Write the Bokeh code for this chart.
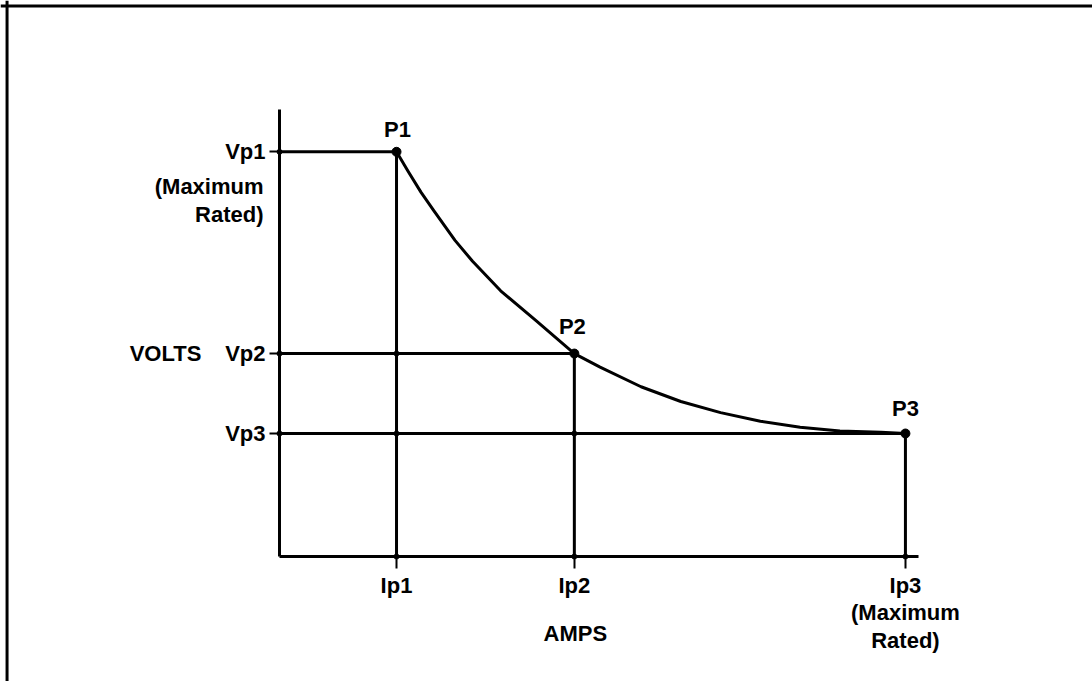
from bokeh.plotting import figure
from bokeh.models import Range1d, FixedTicker, Label, LinearAxis, Span
from bokeh.embed import file_html
from bokeh.resources import INLINE

# ---- data (arbitrary units) ----
amps_ticks = [1.0, 2.52, 5.35]          # Ip1, Ip2, Ip3
amps_labels = ["Ip1", "Ip2", "Ip3\n(Maximum\nRated)"]
volts_ticks = [3.29, 1.65, 1.0]         # Vp1, Vp2, Vp3
volts_labels = ["Vp1", "Vp2", "Vp3"]
point_names = ["P1", "P2", "P3"]

curve_x = [1.00, 1.10, 1.21, 1.32, 1.50, 1.65, 1.89, 2.19, 2.52, 2.74, 3.09, 3.43,
           3.77, 4.11, 4.45, 4.79, 5.14, 5.35]
curve_y = [3.29, 3.13, 2.96, 2.81, 2.57, 2.40, 2.16, 1.92, 1.65, 1.54, 1.38, 1.26,
           1.17, 1.10, 1.05, 1.02, 1.01, 1.00]

x_axis_end = 5.46
y_axis_end = 3.63

# visible window in data units (frame fills the canvas)
X0, X1 = -2.385, 6.949
Y0, Y1 = -1.016, 4.520
# page frame edges (top / left)
FRAME_TOP = 4.476
FRAME_LEFT = -2.329

FONT = "Liberation Sans"
FS = "22px"

p = figure(width=1092, height=681, output_backend="svg", toolbar_location=None,
           x_range=Range1d(X0, X1), y_range=Range1d(Y0, Y1),
           x_axis_location=None, y_axis_location=None,
           min_border=0)
p.outline_line_color = None
p.grid.visible = False
p.background_fill_color = "white"
p.border_fill_color = "white"

def style_axis(ax):
    ax.axis_line_width = 3
    ax.axis_line_color = "black"
    ax.major_tick_line_width = 2
    ax.major_tick_line_color = "black"
    ax.minor_tick_line_color = None
    ax.major_tick_in = 0
    ax.major_label_text_font = FONT
    ax.major_label_text_font_style = "bold"
    ax.major_label_text_font_size = FS
    ax.major_label_text_color = "black"

xa = LinearAxis(fixed_location=0, bounds=(0, x_axis_end))
style_axis(xa)
xa.ticker = FixedTicker(ticks=amps_ticks)
xa.major_label_overrides = {t: l for t, l in zip(amps_ticks, amps_labels)}
xa.major_tick_out = 12
xa.major_label_standoff = 4
xa.major_label_text_line_height = 1.1
p.add_layout(xa, "below")

ya = LinearAxis(fixed_location=0, bounds=(0, y_axis_end))
style_axis(ya)
ya.ticker = FixedTicker(ticks=volts_ticks)
ya.major_label_overrides = {t: l for t, l in zip(volts_ticks, volts_labels)}
ya.major_tick_out = 10
ya.major_label_standoff = 4
p.add_layout(ya, "left")

# page frame (top and left edges)
p.add_layout(Span(location=FRAME_TOP, dimension="width", line_color="black", line_width=3))
p.add_layout(Span(location=FRAME_LEFT, dimension="height", line_color="black", line_width=3))

# horizontal lines from V axis to each point, vertical lines from I axis
pts_x = amps_ticks
pts_y = volts_ticks
p.segment(x0=[0] * 3, y0=pts_y, x1=pts_x, y1=pts_y, line_color="black", line_width=3)
p.segment(x0=pts_x, y0=[0] * 3, x1=pts_x, y1=pts_y, line_color="black", line_width=3)

# curve
p.line(curve_x, curve_y, line_color="black", line_width=3, line_join="round")

# points
p.scatter(pts_x, pts_y, size=9, color="black")
jx = [pts_x[0], pts_x[0], pts_x[1]] + [0] * 3 + pts_x
jy = [pts_y[1], pts_y[2], pts_y[2]] + pts_y + [0] * 3
p.scatter(jx, jy, size=5, color="black")

def lab(x, y, text, xo=0, yo=0, align="center", baseline="middle"):
    p.add_layout(Label(x=x, y=y, text=text, x_offset=xo, y_offset=yo,
                       text_align=align, text_baseline=baseline,
                       text_font=FONT, text_font_style="bold",
                       text_font_size=FS, text_color="black"))

# point labels
lab(pts_x[0], pts_y[0], point_names[0], xo=1, yo=22)
lab(pts_x[1], pts_y[1], point_names[1], xo=-2, yo=27)
lab(pts_x[2], pts_y[2], point_names[2], xo=0, yo=25)

# y-axis extra labels
lab(0, pts_y[0], "(Maximum", xo=-16, yo=-35, align="right")
lab(0, pts_y[0], "Rated)", xo=-16, yo=-63, align="right")
lab(0, pts_y[1], "VOLTS", xo=-114, yo=0)

# x-axis title
lab(pts_x[1], 0, "AMPS", xo=1, yo=-77)

open("out.html", "w").write(file_html(p, INLINE))
